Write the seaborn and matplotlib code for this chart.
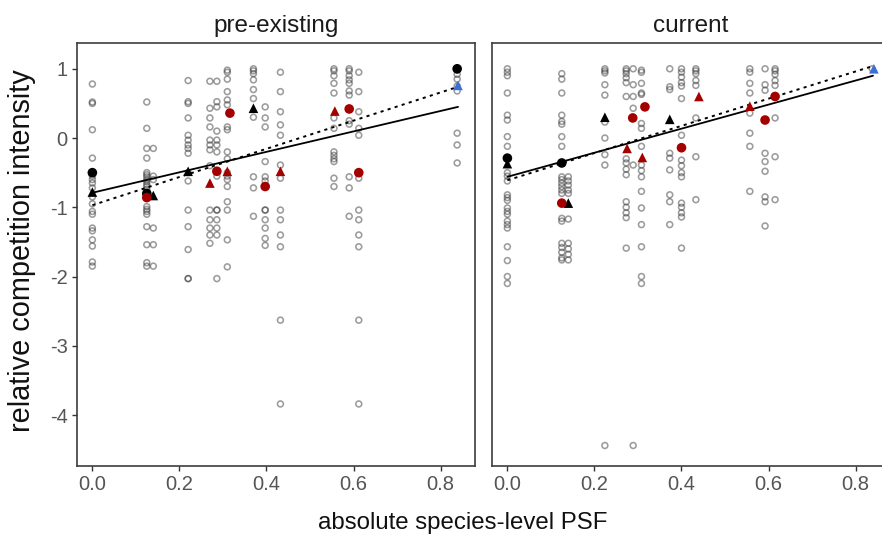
import numpy as np
import pandas as pd
import matplotlib
matplotlib.use("Agg")
import matplotlib.pyplot as plt
import seaborn as sns

sns.set_style("white")
plt.rcParams['font.family'] = ['Liberation Sans', 'DejaVu Sans']
plt.rcParams['axes.unicode_minus'] = False

panels = ["pre-existing", "current"]

# ---- gray individual observations: pre-existing ----
pre_x = ([0.0] * 20 + [0.125] * 20 + [0.14] * 6 + [0.22] * 16 + [0.27] * 13 +
         [0.286] * 14 + [0.31] * 18 + [0.37] * 10 + [0.397] * 12 + [0.432] * 13 +
         [0.555] * 13 + [0.59] * 12 + [0.612] * 12 + [0.838] * 8)
pre_y = [0.78, 0.52, 0.5, 0.12, -0.29, -0.5, -0.55, -0.6, -0.65, -0.72, -0.85, -0.95, -1.06, -1.1, -1.3, -1.34, -1.47, -1.56, -1.79, -1.85,
         0.52, 0.14, -0.15, -0.29, -0.5, -0.53, -0.56, -0.6, -0.63, -0.67, -0.7, -0.74, -0.99, -1.03, -1.06, -1.1, -1.28, -1.54, -1.8, -1.85,
         -0.15, -0.55, -0.6, -1.3, -1.54, -1.85,
         0.83, 0.525, 0.5, 0.29, 0.04, -0.03, -0.1, -0.15, -0.22, -0.5, -0.62, -1.04, -1.28, -1.61, -2.03, -2.03,
         0.82, 0.43, 0.29, 0.16, -0.03, -0.1, -0.17, -0.4, -1.04, -1.18, -1.3, -1.4, -1.52,
         0.82, 0.525, 0.45, 0.1, -0.03, -0.1, -0.2, -0.55, -1.04, -1.04, -1.18, -1.3, -1.4, -2.03,
         0.98, 0.95, 0.85, 0.67, 0.55, 0.48, 0.16, 0.12, -0.2, -0.3, -0.5, -0.55, -0.6, -0.7, -0.92, -1.04, -1.47, -1.86,
         1.0, 0.97, 0.93, 0.84, 0.7, 0.57, 0.3, -0.56, -0.72, -1.13,
         0.45, 0.29, 0.16, -0.34, -0.56, -0.62, -1.04, -1.04, -1.18, -1.3, -1.45, -1.55,
         0.95, 0.67, 0.38, 0.19, 0.04, -0.39, -0.58, -1.04, -1.18, -1.4, -1.57, -2.63, -3.84,
         1.0, 0.97, 0.9, 0.79, 0.65, 0.29, 0.14, -0.2, -0.25, -0.3, -0.34, -0.58, -0.7,
         1.0, 0.97, 0.9, 0.84, 0.79, 0.68, 0.62, 0.25, 0.2, -0.56, -0.72, -1.13,
         0.95, 0.67, 0.38, 0.14, 0.04, -0.58, -1.04, -1.18, -1.4, -1.57, -2.63, -3.84,
         0.98, 0.92, 0.85, 0.75, 0.68, 0.07, -0.1, -0.36]

# ---- gray individual observations: current ----
cur_x = ([0.0] * 24 + [0.125] * 21 + [0.14] * 10 + [0.224] * 10 + [0.273] * 15 +
         [0.289] * 6 + [0.308] * 17 + [0.373] * 9 + [0.40] * 16 + [0.433] * 8 +
         [0.557] * 8 + [0.592] * 9 + [0.615] * 8 + [0.838] * 1)
cur_y = [1.0, 0.95, 0.9, 0.65, 0.33, 0.26, 0.02, -0.12, -0.5, -0.55, -0.62, -0.82, -0.86, -0.9, -1.01, -1.06, -1.1, -1.2, -1.25, -1.3, -1.57, -1.77, -2.0, -2.1,
         0.93, 0.85, 0.65, 0.33, 0.24, 0.2, 0.02, -0.12, -0.56, -0.6, -0.65, -0.7, -0.75, -0.8, -1.16, -1.2, -1.52, -1.58, -1.65, -1.73, -1.76,
         -0.56, -0.62, -0.68, -0.75, -0.8, -1.17, -1.52, -1.6, -1.68, -1.76,
         1.0, 0.97, 0.94, 0.77, 0.62, 0.23, 0.0, -0.24, -0.39, -4.44,
         1.0, 0.97, 0.93, 0.87, 0.8, 0.6, -0.3, -0.36, -0.45, -0.53, -0.92, -1.0, -1.08, -1.15, -1.59,
         1.0, 0.77, 0.6, 0.43, -0.39, -4.44,
         0.98, 0.95, 0.79, 0.65, 0.63, 0.21, 0.14, -0.12, -0.39, -0.47, -0.56, -0.77, -1.01, -1.25, -1.57, -2.0, -2.1,
         1.0, 0.74, 0.7, -0.22, -0.29, -0.46, -0.82, -0.92, -1.25,
         1.0, 0.95, 0.88, 0.8, 0.75, 0.57, 0.04, -0.32, -0.4, -0.5, -0.56, -0.94, -1.0, -1.08, -1.14, -1.59,
         1.0, 0.97, 0.93, 0.83, 0.76, 0.29, -0.27, -0.89,
         1.0, 0.95, 0.79, 0.65, 0.36, 0.07, -0.12, -0.77,
         1.0, 0.77, 0.69, -0.22, -0.34, -0.48, -0.85, -0.92, -1.27,
         1.0, 0.97, 0.92, 0.83, 0.76, 0.29, -0.27, -0.89,
         1.0]

# ---- species means (colour = group, marker = type) ----
pre_mean_x = [0.0, 0.125, 0.838, 0.0, 0.14, 0.22, 0.37,
              0.125, 0.286, 0.316, 0.397, 0.59, 0.612, 0.27, 0.31, 0.432, 0.557, 0.84]
pre_mean_y = [-0.5, -0.8, 1.0, -0.78, -0.83, -0.48, 0.43,
              -0.86, -0.48, 0.36, -0.7, 0.42, -0.5, -0.65, -0.48, -0.48, 0.39, 0.76]
cur_mean_x = [0.0, 0.125, 0.0, 0.14, 0.224, 0.373,
              0.125, 0.288, 0.316, 0.40, 0.592, 0.615, 0.275, 0.31, 0.44, 0.557, 0.842]
cur_mean_y = [-0.29, -0.36, -0.37, -0.94, 0.3, 0.27,
              -0.94, 0.29, 0.45, -0.14, 0.26, 0.6, -0.15, -0.28, 0.6, 0.46, 1.0]
pre_mean_col = ["black"] * 7 + ["red"] * 10 + ["blue"]
pre_mean_shape = ["circle"] * 3 + ["triangle"] * 4 + ["circle"] * 6 + ["triangle"] * 5
cur_mean_col = ["black"] * 6 + ["red"] * 10 + ["blue"]
cur_mean_shape = ["circle"] * 2 + ["triangle"] * 4 + ["circle"] * 6 + ["triangle"] * 5

# ---- fitted lines (endpoints over data range) ----
line_x = [0.0, 0.84]
pre_solid = [-0.79, 0.45]
pre_dashed = [-0.97, 0.74]
cur_solid = [-0.56, 0.9]
cur_dashed = [-0.61, 1.04]

W, H = 882, 542
fig = plt.figure(figsize=(W / 100, H / 100), dpi=100)
left_px = [76.7, 491.7]
pw = 398.3
top_px, bot_px = 43.3, 466.0

palette = {"black": "black", "red": "#A50000", "blue": "#3A6FD8"}
markers = {"circle": "o", "triangle": "^"}

data = [
    (pre_x, pre_y, pre_mean_x, pre_mean_y, pre_mean_col, pre_mean_shape, pre_solid, pre_dashed),
    (cur_x, cur_y, cur_mean_x, cur_mean_y, cur_mean_col, cur_mean_shape, cur_solid, cur_dashed),
]

for i, (gx, gy, mx, my, mc, ms, ls, ld) in enumerate(data):
    ax = fig.add_axes([left_px[i] / W, (H - bot_px) / H, pw / W, (bot_px - top_px) / H])
    gdf = pd.DataFrame({"x": gx, "y": gy})
    sns.scatterplot(data=gdf, x="x", y="y", ax=ax, marker="o", s=18,
                    facecolor="none", edgecolor="#3a3a3a", linewidth=1.15,
                    alpha=0.5, legend=False, zorder=2)
    sns.lineplot(x=line_x, y=ls, ax=ax, color="black", linewidth=1.3, zorder=3)
    sns.lineplot(x=line_x, y=ld, ax=ax, color="black", linewidth=1.4,
                 linestyle=(0, (1.6, 2.2)), zorder=3)
    mdf = pd.DataFrame({"x": mx, "y": my, "col": mc, "shape": ms})
    sns.scatterplot(data=mdf, x="x", y="y", hue="col", style="shape",
                    palette=palette, markers=markers, s=48, linewidth=0,
                    ax=ax, legend=False, zorder=4)
    ax.set_xlim(-0.036, 0.879)
    ax.set_ylim(-4.736, 1.368)
    ax.set_xticks([0.0, 0.2, 0.4, 0.6, 0.8])
    ax.set_xticklabels(["0.0", "0.2", "0.4", "0.6", "0.8"])
    ax.set_yticks([1, 0, -1, -2, -3, -4])
    ax.tick_params(axis="x", bottom=True)
    if i == 0:
        ax.set_yticklabels(["1", "0", "-1", "-2", "-3", "-4"])
        ax.tick_params(axis="y", left=True)
    else:
        ax.set_yticklabels([])
        ax.tick_params(axis="y", left=False)
    ax.set_xlabel("")
    ax.set_ylabel("")
    for sp in ax.spines.values():
        sp.set_color("#3d3d3d")
        sp.set_linewidth(1.2)
    ax.tick_params(axis="both", direction="out", length=3.5, width=1.0,
                   color="#333333", labelcolor="#555555", labelsize=14.5, pad=3)
    ax.set_title(panels[i], fontsize=17.5, color="#1a1a1a", pad=8)

fig.text(463 / W, 1 - 523 / H, "absolute species-level PSF", ha="center", va="center",
         fontsize=17.3, color="#111111")
fig.text(22 / W, 1 - 251 / H, "relative competition intensity", ha="center", va="center",
         rotation=90, fontsize=20.8, color="#111111")

fig.savefig("out.png", dpi=100)
